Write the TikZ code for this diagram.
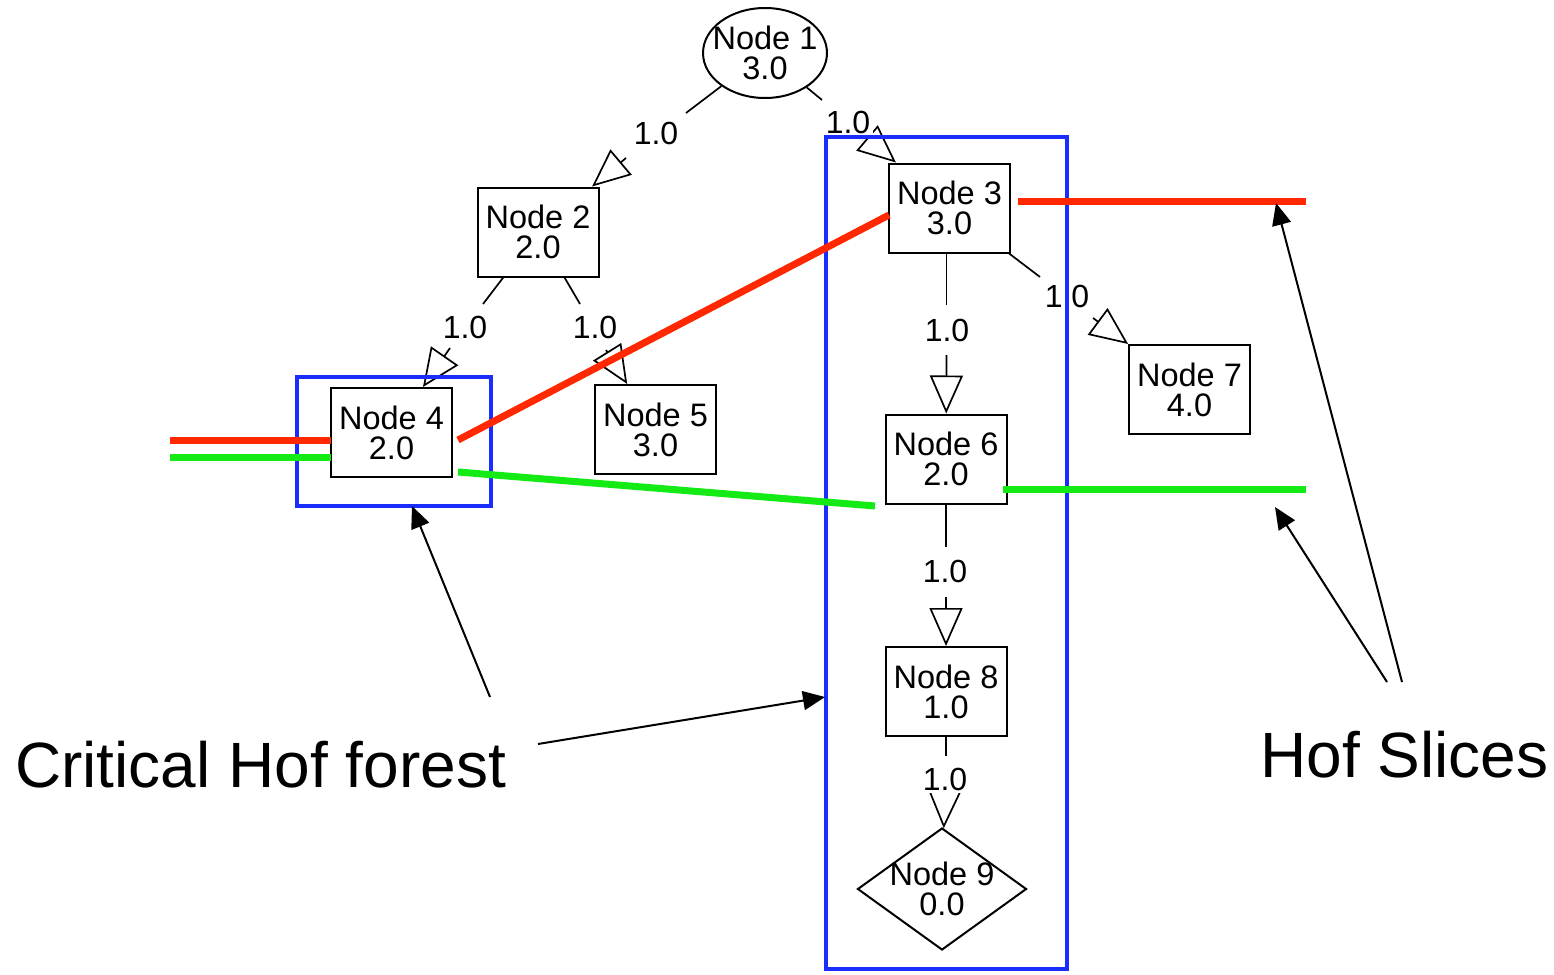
\documentclass[tikz,border=0pt]{standalone}
\usepackage{fontspec}
\setmainfont{Liberation Sans}
\usetikzlibrary{arrows.meta,shapes.geometric}
\definecolor{sliceRed}{RGB}{255,40,0}
\definecolor{sliceGreen}{RGB}{20,235,20}
\definecolor{hofBlue}{RGB}{25,45,255}
\tikzset{
 box/.style={draw, line width=2pt, rectangle, minimum width=121pt, minimum height=89pt, inner sep=0pt, align=center, font=\fontsize{32.5}{30}\selectfont},
 txt/.style={inner sep=0pt, align=center, font=\fontsize{32.5}{30}\selectfont},
 edge/.style={line width=1.7pt},
 edgearrow/.style={line width=1.7pt, -{Triangle[open, length=38pt, width=33pt]}},
 wlabel/.style={fill=white, inner sep=3pt, font=\fontsize{32}{30}\selectfont},
 bluebox/.style={draw=hofBlue, line width=4.5pt, inner sep=0pt},
 redslice/.style={draw=sliceRed, line width=7pt},
 greenslice/.style={draw=sliceGreen, line width=7pt},
 annot/.style={line width=2pt, -{Triangle[length=22pt, width=19pt]}},
 bigtext/.style={inner sep=0pt, font=\fontsize{64}{64}\selectfont, anchor=base west},
}
\begin{document}
\begin{tikzpicture}[x=1pt, y=-1pt]
\useasboundingbox (0,0) rectangle (1554,974);

% nodes
\node[draw, ellipse, line width=2pt, minimum width=124pt, minimum height=90pt, inner sep=0pt] (n1) at (765,53) {};
\node[txt] (n1t) at (n1.center) {Node 1\\3.0};
\node[box] (n2) at (538,232) {Node 2\\2.0};
\node[box] (n3) at (949.5,208) {Node 3\\3.0};
\node[box] (n4) at (391.5,432.5) {Node 4\\2.0};
\node[box] (n5) at (655.5,429.5) {Node 5\\3.0};
\node[box] (n6) at (946,459) {Node 6\\2.0};
\node[box] (n7) at (1189.5,389.5) {Node 7\\4.0};
\node[box] (n8) at (946,691.5) {Node 8\\1.0};
\node[draw, diamond, line width=2pt, minimum width=169pt, minimum height=122pt, inner sep=0pt] (n9) at (942,889) {};
\node[txt] (n9t) at (n9.center) {Node 9\\0.0};

% edge coordinates
\coordinate (e12a) at (686,113); \coordinate (e12b) at (626,158);
\coordinate (e13a) at (822,100); \coordinate (e13b) at (860,132);
\coordinate (e24a) at (483,304); \coordinate (e24b) at (450,348);
\coordinate (e25a) at (580,304); \coordinate (e25b) at (606,350);
\coordinate (e36a) at (946.5,305); \coordinate (e36b) at (946.5,355);
\coordinate (e37a) at (1040,277); \coordinate (e37b) at (1093,318);
\coordinate (e68a) at (946,547); \coordinate (e68b) at (946,597);
\coordinate (e89a) at (946,756); \coordinate (e89b) at (945,786);

\draw[edge] (n1) -- (e12a);  \draw[edgearrow] (e12b) -- (n2);
\draw[edge] (n1) -- (e13a);  \draw[edgearrow] (e13b) -- (n3);
\draw[edge] (n2) -- (e24a);  \draw[edgearrow] (e24b) -- (n4);
\draw[edge] (n2) -- (e25a);  \draw[edgearrow] (e25b) -- (n5);
\draw[edge] (n3.south -| e36a) -- (e36a);  \draw[edgearrow] (e36b) -- (n6);
\draw[edge] (n3) -- (e37a);  \draw[edgearrow] (e37b) -- (n7);
\draw[edge] (n6) -- (e68a);  \draw[edgearrow] (e68b) -- (n8);
\draw[edge] (n8) -- (e89a);  \draw[edgearrow] (e89b) -- (n9);

\node[wlabel] (l12) at (656,133) {1.0};
\node[wlabel] (l13) at (848,122) {1.0};
\node[wlabel] (l24) at (465,327) {1.0};
\node[wlabel] (l25) at (595,327) {1.0};
\node[wlabel] (l36) at (947,330) {1.0};
\node[wlabel] (l37) at (1067,296) {1.0};
\node[wlabel] (l68) at (945,571) {1.0};
\node[wlabel] (l89) at (945,779) {1.0};

% blue boxes
\node[bluebox, minimum width=241pt, minimum height=832pt] (forestB) at (946.5,553) {};
\node[bluebox, minimum width=194pt, minimum height=129pt] (forestA) at (394,441.5) {};

% slices
\coordinate (rL1) at (170,440); \coordinate (rL2) at (331,440);
\coordinate (rD1) at (458,440); \coordinate (rD2) at (889,215);
\coordinate (rR1) at (1018,201); \coordinate (rR2) at (1306,201);
\coordinate (gL1) at (170,457); \coordinate (gL2) at (331,457);
\coordinate (gD1) at (458,472); \coordinate (gD2) at (875,506);
\coordinate (gR1) at (1003,489); \coordinate (gR2) at (1306,489);
\draw[redslice] (rL1) -- (rL2);
\draw[redslice] (rD1) -- (rD2);
\draw[redslice] (rR1) -- (rR2);
\draw[greenslice] (gL1) -- (gL2);
\draw[greenslice] (gD1) -- (gD2);
\draw[greenslice] (gR1) -- (gR2);

% annotations
\node[bigtext] (crit) at (15,787) {Critical Hof forest};
\node[bigtext] (slices) at (1260,777) {Hof Slices};
\coordinate (a1s) at (490,697); \coordinate (a1t) at (412,506);
\coordinate (a2s) at (538,744); \coordinate (a2t) at (825,697);
\coordinate (a3s) at (1387,682); \coordinate (a3t) at (1275,507);
\coordinate (a4s) at (1402,682); \coordinate (a4t) at (1276,203);
\draw[annot] (a1s) -- (a1t);
\draw[annot] (a2s) -- (a2t);
\draw[annot] (a3s) -- (a3t);
\draw[annot] (a4s) -- (a4t);
\end{tikzpicture}
\end{document}
